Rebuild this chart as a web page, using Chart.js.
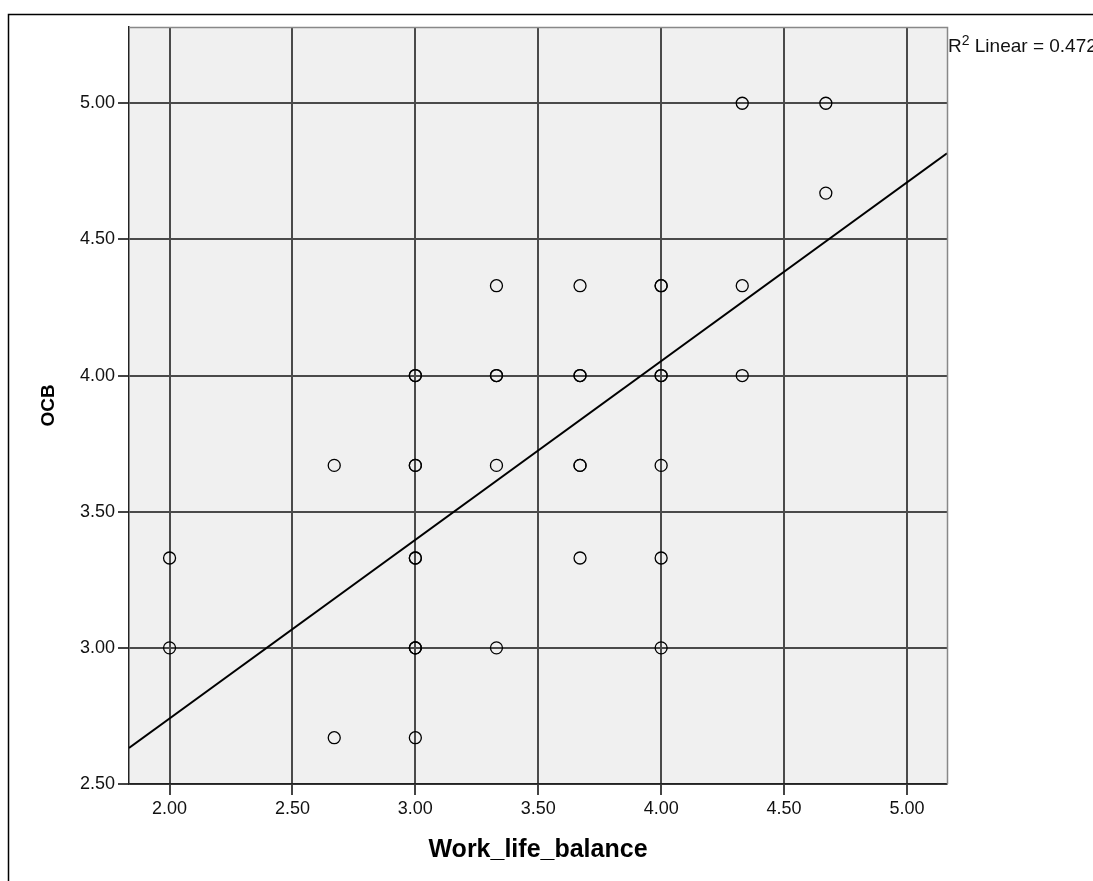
<!DOCTYPE html>
<html>
<head>
<meta charset="utf-8">
<script src="https://cdn.jsdelivr.net/npm/chart.js@4"></script>
<style>
  body { margin: 0; background: #fff; }
  #wrap { width: 1093px; height: 881px; }
</style>
</head>
<body>
<div id="wrap"><canvas id="myChart" width="1093" height="881"></canvas></div>
<script>
// observations (repeated pairs are cases that sit on top of each other)
const workLifeBalance = [
  2.00, 2.00,
  2.67, 2.67,
  3.00, 3.00, 3.00, 3.00, 3.00, 3.00, 3.00, 3.00, 3.00, 3.00,
  3.33, 3.33, 3.33, 3.33, 3.33,
  3.67, 3.67, 3.67, 3.67, 3.67, 3.67,
  4.00, 4.00, 4.00, 4.00, 4.00, 4.00, 4.00,
  4.33, 4.33, 4.33,
  4.67, 4.67,
];
const ocb = [
  3.33, 3.00,
  3.67, 2.67,
  4.00, 4.00, 3.67, 3.67, 3.33, 3.33, 3.00, 3.00, 3.00, 2.67,
  4.33, 4.00, 4.00, 3.67, 3.00,
  4.33, 4.00, 4.00, 3.67, 3.67, 3.33,
  4.33, 4.33, 4.00, 4.00, 3.67, 3.33, 3.00,
  5.00, 4.33, 4.00,
  5.00, 4.67,
];

// fit line, read at the two edges of the plot
const fitX = [1.835, 5.163];
const fitY = [2.632, 4.816];
const rSquared = '0.472';

const xTicks = [2.00, 2.50, 3.00, 3.50, 4.00, 4.50, 5.00];
const yTicks = [2.50, 3.00, 3.50, 4.00, 4.50, 5.00];

Chart.defaults.font.family = '"Liberation Sans", Arial, sans-serif';
Chart.defaults.color = '#111';

const points = workLifeBalance.map((x, i) => ({ x: x, y: ocb[i] }));
const fitLine = fitX.map((x, i) => ({ x: x, y: fitY[i] }));

// outer frame, grey plot background, top/right plot border, R2 note
const decor = {
  id: 'decor',
  beforeDraw(chart) {
    const { ctx, chartArea: a } = chart;
    ctx.save();
    ctx.fillStyle = '#fff';
    ctx.fillRect(0, 0, chart.width, chart.height);
    ctx.strokeStyle = '#000';
    ctx.lineWidth = 1.5;
    ctx.strokeRect(8.5, 14.5, 1200, 1000);
    ctx.fillStyle = '#f0f0f0';
    ctx.fillRect(a.left, a.top, a.right - a.left, a.bottom - a.top);
    ctx.restore();
  },
  afterDraw(chart) {
    const { ctx, chartArea: a } = chart;
    ctx.save();
    ctx.strokeStyle = '#888';
    ctx.lineWidth = 1.5;
    ctx.beginPath();
    ctx.moveTo(a.left, a.top + 0.5);
    ctx.lineTo(a.right + 0.5, a.top + 0.5);
    ctx.lineTo(a.right + 0.5, a.bottom);
    ctx.stroke();

    ctx.fillStyle = '#111';
    ctx.textBaseline = 'alphabetic';
    let x = a.right + 1;
    ctx.font = '19px "Liberation Sans", Arial, sans-serif';
    ctx.fillText('R', x, 52);
    x += ctx.measureText('R').width;
    ctx.font = '14px "Liberation Sans", Arial, sans-serif';
    ctx.fillText('2', x, 45);
    x += ctx.measureText('2').width;
    ctx.font = '19px "Liberation Sans", Arial, sans-serif';
    ctx.fillText(' Linear = ' + rSquared, x, 52);
    ctx.restore();
  }
};

const config = {
  type: 'scatter',
  data: {
    datasets: [
      {
        label: 'OCB',
        data: points,
        pointStyle: 'circle',
        pointRadius: 6,
        pointHoverRadius: 6,
        borderWidth: 1.3,
        borderColor: '#000',
        backgroundColor: 'rgba(0,0,0,0)',
      },
      {
        type: 'line',
        label: 'Linear',
        data: fitLine,
        borderColor: '#000',
        borderWidth: 2,
        pointRadius: 0,
        fill: false,
      }
    ]
  },
  options: {
    responsive: false,
    animation: false,
    layout: { padding: { top: 27, right: 146, left: 0, bottom: 0 } },
    plugins: {
      legend: { display: false },
      tooltip: { enabled: false },
    },
    scales: {
      x: {
        type: 'linear',
        min: 1.835,
        max: 5.163,
        afterFit: (s) => { s.height = 97; },
        afterBuildTicks: (s) => { s.ticks = xTicks.map(v => ({ value: v })); },
        ticks: {
          padding: 3,
          font: { size: 18 },
          color: '#111',
          callback: (v) => Number(v).toFixed(2),
        },
        grid: { color: '#4a4a4a', lineWidth: 2, tickLength: 11, tickColor: '#444', tickWidth: 2 },
        border: { display: true, color: '#222', width: 1.5 },
        title: {
          display: true,
          text: 'Work_life_balance',
          font: { size: 25, weight: 'bold' },
          color: '#000',
          padding: { top: 0, bottom: 16 },
        },
      },
      y: {
        type: 'linear',
        min: 2.5,
        max: 5.28,
        afterFit: (s) => { s.width = 129; },
        afterBuildTicks: (s) => { s.ticks = yTicks.map(v => ({ value: v })); },
        ticks: {
          padding: 3,
          font: { size: 18 },
          color: '#111',
          callback: (v) => Number(v).toFixed(2),
        },
        grid: { color: '#4a4a4a', lineWidth: 2, tickLength: 11, tickColor: '#444', tickWidth: 2 },
        border: { display: true, color: '#222', width: 1.5 },
        title: {
          display: true,
          text: 'OCB',
          font: { size: 19, weight: 'bold' },
          color: '#000',
          padding: { top: 37, bottom: 0 },
        },
      }
    }
  },
  plugins: [decor]
};

const myChart = new Chart(document.getElementById('myChart'), config);
</script>
</body>
</html>
